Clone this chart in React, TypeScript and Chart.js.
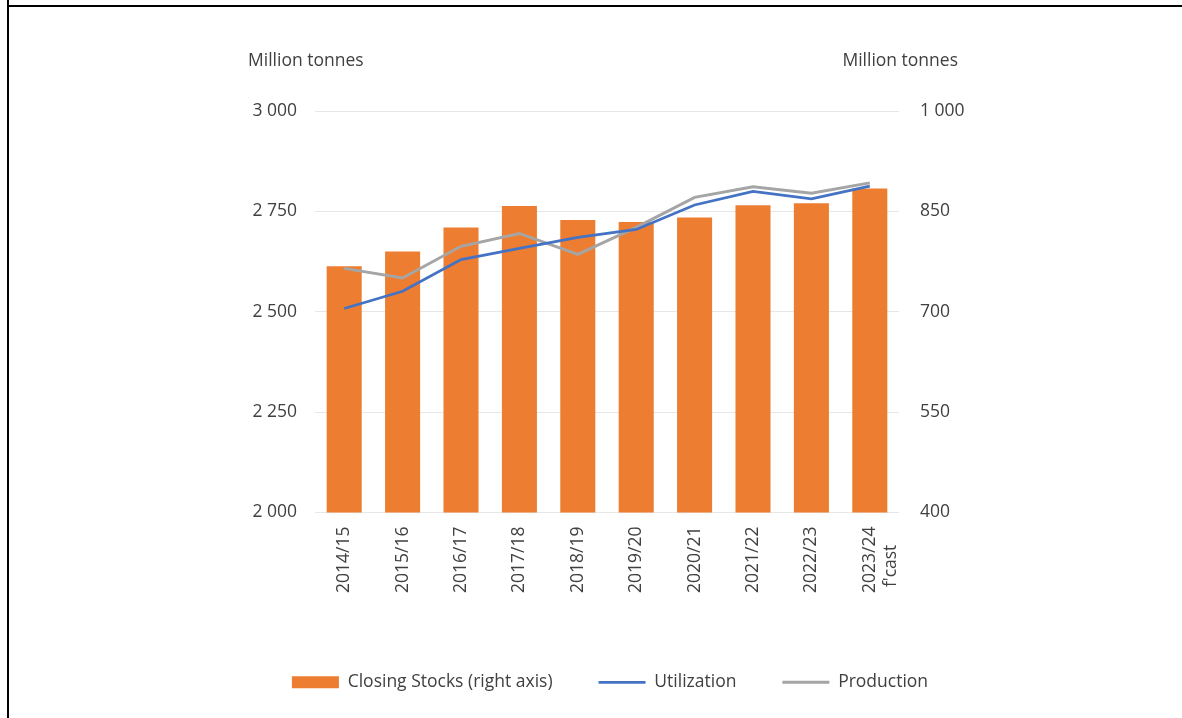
import React, { useEffect, useRef } from "react";
import { Chart, registerables } from "chart.js";

Chart.register(...registerables);

const categories: (string | string[])[] = [
  "2014/15",
  "2015/16",
  "2016/17",
  "2017/18",
  "2018/19",
  "2019/20",
  "2020/21",
  "2021/22",
  "2022/23",
  ["2023/24", "f'cast    "],
];

// Right axis (Million tonnes)
const closingStocks = [768, 790, 826, 858, 837, 834, 841, 859, 862, 884];
// Left axis (Million tonnes)
const utilization = [2508, 2551, 2630, 2658, 2685, 2705, 2766, 2800, 2781, 2813];
const production = [2608, 2584, 2663, 2695, 2643, 2710, 2785, 2811, 2795, 2821];

const leftTicks = [2000, 2250, 2500, 2750, 3000];
const rightTicks = [400, 550, 700, 850, 1000];

const seriesNames = ["Closing Stocks (right axis)", "Utilization", "Production"];
const axisTitle = "Million tonnes";

const FONT = '"Open Sans", sans-serif';
const FS = 17.5;
const TEXT = "#404040";
const ORANGE = "#ed7d31";
const BLUE = "#4472c4";
const GRAY = "#a5a5a5";

const fmt = (v: number) => {
  const s = String(Math.round(v));
  return s.replace(/\B(?=(\d{3})+(?!\d))/g, " ");
};

const titlesPlugin = {
  id: "axisTitles",
  afterDraw(chart: any) {
    const { ctx, chartArea } = chart;
    ctx.save();
    ctx.font = `${FS}px ${FONT}`;
    ctx.fillStyle = TEXT;
    ctx.textBaseline = "middle";
    ctx.textAlign = "left";
    ctx.fillText(axisTitle, chartArea.left - 67, chartArea.top - 50);
    ctx.textAlign = "right";
    ctx.fillText(axisTitle, chartArea.right + 59, chartArea.top - 50);
    ctx.restore();
  },
};

export default function App() {
  const ref = useRef<HTMLCanvasElement | null>(null);

  useEffect(() => {
    if (!ref.current) return;
    const chart = new Chart(ref.current, {
      type: "bar",
      data: {
        labels: categories,
        datasets: [
          {
            type: "bar",
            label: seriesNames[0],
            data: closingStocks,
            backgroundColor: ORANGE,
            borderWidth: 0,
            yAxisID: "y1",
            categoryPercentage: 1,
            barPercentage: 0.6,
            order: 3,
          },
          {
            type: "line",
            label: seriesNames[1],
            data: utilization,
            borderColor: BLUE,
            backgroundColor: BLUE,
            borderWidth: 2.75,
            pointRadius: 0,
            tension: 0,
            yAxisID: "y",
            order: 1,
          },
          {
            type: "line",
            label: seriesNames[2],
            data: production,
            borderColor: GRAY,
            backgroundColor: GRAY,
            borderWidth: 3,
            pointRadius: 0,
            tension: 0,
            yAxisID: "y",
            order: 2,
          },
        ] as any,
      },
      options: {
        animation: false,
        responsive: false,
        maintainAspectRatio: false,
        layout: { padding: { left: 240, right: 202, top: 111, bottom: 17 } },
        plugins: {
          tooltip: { enabled: false },
          legend: {
            position: "bottom",
            labels: {
              font: { family: FONT, size: FS },
              color: TEXT,
              padding: 46,
              usePointStyle: true,
              pointStyleWidth: 47,
              boxHeight: 12,
              generateLabels: () => [
                {
                  text: seriesNames[0],
                  fillStyle: ORANGE,
                  strokeStyle: ORANGE,
                  lineWidth: 0,
                  pointStyle: "rect",
                  datasetIndex: 0,
                  fontColor: TEXT,
                },
                {
                  text: seriesNames[1],
                  fillStyle: BLUE,
                  strokeStyle: BLUE,
                  lineWidth: 2.75,
                  pointStyle: "line",
                  datasetIndex: 1,
                  fontColor: TEXT,
                },
                {
                  text: seriesNames[2],
                  fillStyle: GRAY,
                  strokeStyle: GRAY,
                  lineWidth: 3,
                  pointStyle: "line",
                  datasetIndex: 2,
                  fontColor: TEXT,
                },
              ] as any,
            },
          },
        },
        scales: {
          x: {
            grid: { display: false },
            border: { display: false },
            ticks: {
              font: { family: FONT, size: FS },
              color: TEXT,
              minRotation: 90,
              maxRotation: 90,
              autoSkip: false,
              padding: 6,
            },
            afterFit: (s: any) => {
              s.height = 115;
            },
          },
          y: {
            position: "left",
            min: 2000,
            max: 3000,
            afterBuildTicks: (s: any) => {
              s.ticks = leftTicks.map((v) => ({ value: v }));
            },
            grid: { color: "#e7e7e7", lineWidth: 1, drawTicks: false },
            border: { display: false },
            ticks: {
              font: { family: FONT, size: FS },
              color: TEXT,
              padding: 18,
              callback: (v: any) => fmt(Number(v)),
            },
            afterFit: (s: any) => {
              s.width = 75;
            },
          },
          y1: {
            position: "right",
            min: 400,
            max: 1000,
            afterBuildTicks: (s: any) => {
              s.ticks = rightTicks.map((v) => ({ value: v }));
            },
            grid: { display: false, drawTicks: false },
            border: { display: false },
            ticks: {
              font: { family: FONT, size: FS },
              color: TEXT,
              padding: 21,
              callback: (v: any) => fmt(Number(v)),
            },
            afterFit: (s: any) => {
              s.width = 81;
            },
          },
        },
      },
      plugins: [titlesPlugin],
    });
    return () => chart.destroy();
  }, []);

  return (
    <div
      style={{
        position: "fixed",
        left: 0,
        top: 0,
        width: 1182,
        height: 718,
        background: "#ffffff",
        overflow: "hidden",
      }}
    >
      <div style={{ position: "absolute", left: 7, top: 0, width: 2, height: 718, background: "#000" }} />
      <div style={{ position: "absolute", left: 7, top: 5, width: 1175, height: 2, background: "#000" }} />
      <canvas ref={ref} width={1182} height={718} style={{ position: "absolute", left: 0, top: 0 }} />
    </div>
  );
}
